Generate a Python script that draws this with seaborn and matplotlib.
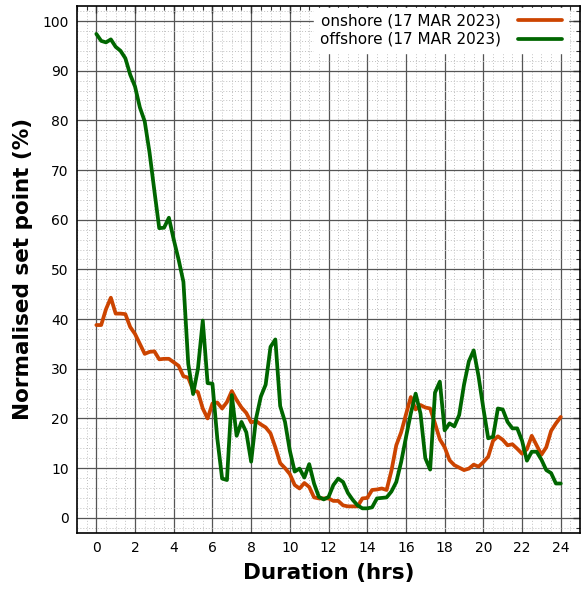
import matplotlib.pyplot as plt
import numpy as np
import pandas as pd
import seaborn as sns
from matplotlib.ticker import MultipleLocator

# 15-minute steps over the day
hours = np.arange(97) * 0.25

onshore = [
    38.8, 38.8, 42.0, 44.3, 41.1, 41.1, 41.0, 38.4, 37.0, 35.0, 33.0, 33.4,
    33.5, 31.9, 32.0, 32.0, 31.3, 30.6, 28.5, 28.2, 25.7, 25.3, 22.0, 20.0,
    23.0, 23.2, 22.0, 23.3, 25.5, 23.7, 22.2, 21.1, 19.2, 19.5, 18.8, 18.2,
    17.0, 14.2, 11.0, 10.0, 8.8, 6.6, 5.9, 7.0, 6.2, 4.1, 3.9, 3.9,
    3.9, 3.4, 3.4, 2.5, 2.3, 2.3, 2.3, 3.9, 4.0, 5.6, 5.7, 5.9,
    5.6, 9.5, 14.6, 17.2, 20.8, 24.3, 21.8, 22.7, 22.2, 22.0, 19.0, 15.8,
    14.2, 11.6, 10.6, 10.1, 9.6, 9.9, 10.7, 10.3, 11.2, 12.3, 15.5, 16.4,
    15.7, 14.6, 14.8, 13.9, 12.9, 13.8, 16.5, 14.6, 12.7, 14.2, 17.5, 19.0,
    20.3,
]
offshore = [
    97.4, 96.0, 95.7, 96.3, 94.8, 94.0, 92.5, 89.2, 86.8, 82.6, 79.8, 73.5,
    65.8, 58.3, 58.4, 60.4, 56.0, 52.0, 47.5, 31.0, 24.9, 30.0, 39.7, 27.1,
    27.0, 16.0, 7.9, 7.6, 24.7, 16.5, 19.3, 17.2, 11.3, 19.9, 24.4, 26.8,
    34.4, 35.9, 22.5, 19.3, 13.5, 9.3, 9.9, 8.1, 10.8, 6.9, 4.2, 3.7,
    4.2, 6.6, 7.9, 7.2, 5.0, 3.6, 2.5, 1.9, 1.9, 2.1, 3.9, 4.0,
    4.1, 5.3, 7.2, 11.2, 16.2, 21.0, 25.0, 21.0, 12.0, 9.7, 25.2, 27.4,
    17.6, 19.0, 18.4, 20.7, 26.8, 31.5, 33.7, 28.5, 22.0, 16.0, 16.3, 22.0,
    21.8, 19.3, 18.0, 18.0, 15.5, 11.5, 13.3, 13.3, 11.7, 9.6, 9.0, 6.9,
    6.9,
]

series_names = ["onshore (17 MAR 2023)", "offshore (17 MAR 2023)"]
colours = ["#cc4400", "#006600"]

df = pd.concat([
    pd.DataFrame({"hours": hours, "value": onshore, "series": series_names[0]}),
    pd.DataFrame({"hours": hours, "value": offshore, "series": series_names[1]}),
])

sns.set_style("white")
plt.rcParams["font.family"] = ["DejaVu Sans"]
plt.rcParams.update({"text.color": "black", "axes.labelcolor": "black",
                     "xtick.labelcolor": "black", "ytick.labelcolor": "black"})

fig = plt.figure(figsize=(5.81, 5.93), dpi=100)
ax = fig.add_axes([0.1325, 0.1017, 0.866, 0.888])

sns.lineplot(data=df, x="hours", y="value", hue="series", palette=colours,
             linewidth=2.7, ax=ax, zorder=3)

ax.set_xlim(-1, 25)
ax.set_ylim(-3, 103)
ax.xaxis.set_major_locator(MultipleLocator(2))
ax.xaxis.set_minor_locator(MultipleLocator(0.5))
ax.yaxis.set_major_locator(MultipleLocator(10))
ax.yaxis.set_minor_locator(MultipleLocator(2))

ax.grid(which="minor", color="#c0c0c0", linestyle=(0, (1, 2)), linewidth=0.7)
ax.grid(which="major", color="#555555", linewidth=0.9)
ax.set_axisbelow(True)

for s in ax.spines.values():
    s.set_color("black")
    s.set_linewidth(1.2)

ax.tick_params(which="both", direction="in", top=True, right=True,
               color="#333333", labelsize=10)
ax.tick_params(which="major", length=5, width=1, pad=6)
ax.tick_params(which="minor", length=3, width=0.8)

ax.set_xlabel("Duration (hrs)", fontsize=15.5, fontweight="bold", labelpad=6)
ax.set_ylabel("Normalised set point (%)", fontsize=15.5, fontweight="bold", labelpad=7)

leg = ax.legend(loc="upper right", bbox_to_anchor=(0.976, 0.997),
                markerfirst=False, fontsize=11,
                handlelength=2.9, handletextpad=1.1, frameon=True,
                fancybox=False, framealpha=1, borderaxespad=0,
                borderpad=0.4, labelspacing=0.2)
leg.get_frame().set_facecolor("white")
leg.get_frame().set_edgecolor("white")
leg.set_zorder(5)

plt.savefig("out.png", dpi=100)
